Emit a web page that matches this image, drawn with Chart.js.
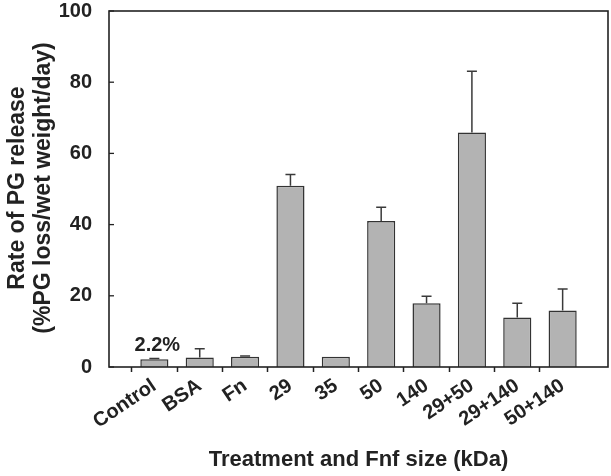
<!DOCTYPE html>
<html>
<head>
<meta charset="utf-8">
<script src="https://cdn.jsdelivr.net/npm/chart.js@4"></script>
<style>
  html, body { margin: 0; padding: 0; background: #fff; }
  #wrap { width: 611px; height: 476px; position: relative; }
</style>
</head>
<body>
<div id="wrap"><canvas id="chart"></canvas></div>
<script>
// blank labels at both ends leave the empty margin inside the frame
const categories = ['', 'Control', 'BSA', 'Fn', '29', '35', '50', '140', '29+50', '29+140', '50+140', ''];
const rates = [null, 2.2, 2.7, 2.9, 50.9, 2.9, 41.0, 17.9, 65.9, 13.9, 15.9, null];
const errTops = [null, 2.4, 5.1, 3.1, 54.1, null, 44.9, 19.9, 83.1, 17.9, 21.9, null];
const yTicks = [0, 20, 40, 60, 80, 100];
const yTitle = ['Rate of PG release', '(%PG loss/wet weight/day)'];

const FONT = "'Liberation Sans', Arial, sans-serif";
const INK = '#222';

// frame, inward y ticks, error bars, y title and the 2.2% note
const extras = {
    id: 'extras',
    afterDatasetsDraw(chart) {
        const { ctx, chartArea: a, scales: { x, y } } = chart;
        ctx.save();

        ctx.strokeStyle = '#3a3a3a';
        ctx.lineWidth = 1.5;
        errTops.forEach((top, i) => {
            if (top === null || rates[i] === null) return;
            const px = x.getPixelForValue(i);
            const y0 = y.getPixelForValue(rates[i]);
            const y1 = y.getPixelForValue(top);
            ctx.beginPath();
            ctx.moveTo(px, y0);
            ctx.lineTo(px, y1);
            ctx.moveTo(px - 5, y1);
            ctx.lineTo(px + 5, y1);
            ctx.stroke();
        });

        ctx.strokeStyle = INK;
        ctx.lineWidth = 1.6;
        ctx.strokeRect(a.left, a.top, a.right - a.left, a.bottom - a.top);

        ctx.lineWidth = 1.3;
        yTicks.forEach(v => {
            const py = y.getPixelForValue(v);
            ctx.beginPath();
            ctx.moveTo(a.left, py);
            ctx.lineTo(a.left + 5, py);
            ctx.stroke();
        });

        ctx.fillStyle = INK;
        ctx.font = 'bold 20px ' + FONT;
        ctx.textAlign = 'center';
        ctx.textBaseline = 'bottom';
        ctx.fillText('2.2%', x.getPixelForValue(1) + 3, y.getPixelForValue(rates[1]) - 4);

        // two-line y title, rotated
        ctx.font = 'bold 23px ' + FONT;
        ctx.translate(18, (a.top + a.bottom) / 2 - 1);
        ctx.rotate(-Math.PI / 2);
        ctx.textBaseline = 'middle';
        ctx.fillText(yTitle[0], 0, 0);
        ctx.fillText(yTitle[1], 0, 26);

        ctx.restore();
    }
};

new Chart(document.getElementById('chart'), {
    type: 'bar',
    data: {
        labels: categories,
        datasets: [{
            data: rates,
            backgroundColor: '#b3b3b3',
            borderColor: '#333',
            borderWidth: 1.5,
            barPercentage: 0.62,
            categoryPercentage: 1
        }]
    },
    options: {
        responsive: true,
        maintainAspectRatio: false,
        animation: false,
        layout: { padding: { top: 11, right: 3, left: 0, bottom: 0 } },
        plugins: {
            legend: { display: false },
            tooltip: { enabled: false }
        },
        scales: {
            x: {
                offset: false,
                afterFit: s => {
                    s.height = 109;
                    s.paddingLeft = 0;
                    s.paddingRight = 0;
                },
                border: { display: false },
                grid: {
                    drawOnChartArea: false,
                    tickLength: 5,
                    tickWidth: 1.5,
                    tickColor: c => (c.index === 0 || c.index === categories.length - 1) ? 'rgba(0,0,0,0)' : INK
                },
                ticks: {
                    autoSkip: false,
                    minRotation: 34,
                    maxRotation: 34,
                    padding: 2,
                    color: INK,
                    font: { family: FONT, size: 20, weight: 'bold' }
                },
                title: {
                    display: true,
                    text: 'Treatment and Fnf size (kDa)',
                    color: INK,
                    font: { family: FONT, size: 22, weight: 'bold' },
                    padding: { top: 0, bottom: 3 }
                }
            },
            y: {
                min: 0,
                max: 100,
                afterFit: s => {
                    s.width = 109;
                    s.paddingTop = 0;
                    s.paddingBottom = 0;
                },
                border: { display: false },
                grid: { display: false },
                afterBuildTicks: s => { s.ticks = yTicks.map(v => ({ value: v })); },
                ticks: {
                    padding: 9,
                    color: INK,
                    font: { family: FONT, size: 20, weight: 'bold' }
                }
            }
        }
    },
    plugins: [extras]
});
</script>
</body>
</html>
